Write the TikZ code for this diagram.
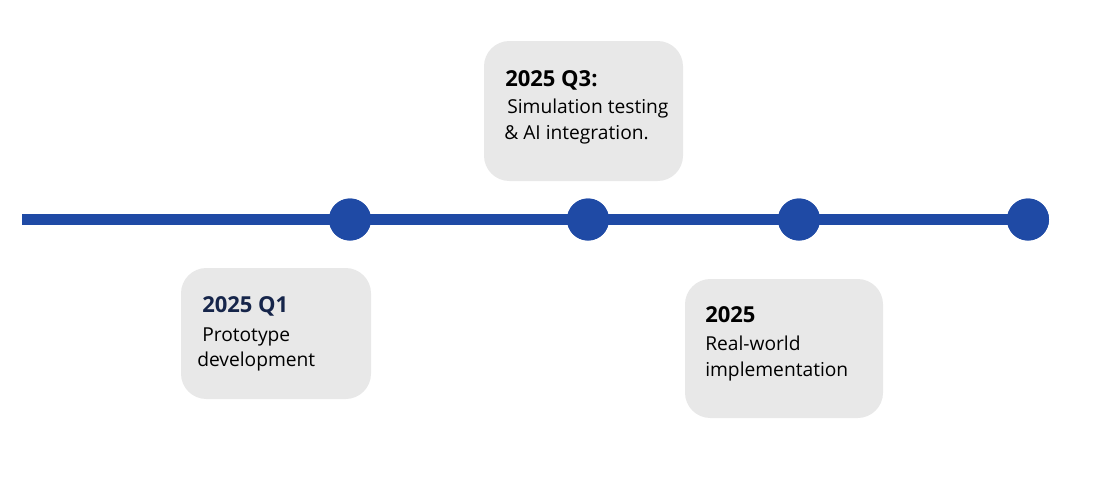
\documentclass[tikz,border=0pt]{standalone}
\usepackage{fontspec}
\setmainfont{Open Sans}
\definecolor{tlblue}{HTML}{1F4AA5}
\definecolor{boxgray}{HTML}{E8E8E8}
\definecolor{navy}{HTML}{16254A}
\begin{document}
\begin{tikzpicture}[x=0.75pt,y=-0.75pt,
  card/.style={fill=boxgray,rounded corners=19pt},
  dot/.style={circle,fill=tlblue,minimum size=31.5pt,inner sep=0pt},
  head/.style={anchor=base west,inner sep=0pt,font=\fontsize{16.5}{20}\selectfont\bfseries},
  body/.style={anchor=base west,inner sep=0pt,font=\fontsize{14.4}{17}\selectfont},
  tl/.style={draw=tlblue,line width=8.25pt}]
\useasboundingbox (0,0) rectangle (1120,490);
% cards
\fill[card] (181,268) rectangle (371,399);
\fill[card] (484,41) rectangle (683,181);
\fill[card] (685,279) rectangle (883,418);
% timeline
\coordinate (start) at (22,219.5);
\node[dot] (d1) at (350,219.5) {};
\node[dot] (d2) at (588,219.5) {};
\node[dot] (d3) at (799,219.5) {};
\node[dot] (d4) at (1028,219.5) {};
\draw[tl] (start) -- (d1.center) -- (d2.center) -- (d3.center) -- (d4.center);
\node[dot] at (d1) {};
\node[dot] at (d2) {};
\node[dot] at (d3) {};
\node[dot] at (d4) {};
% texts
\node[head,text=navy] (h1) at (202,312) {2025 Q1};
\node[body] (b1a) at (202,341) {Prototype};
\node[body] (b1b) at (197,366) {development};
\node[head] (h2) at (505,86) {2025 Q3:};
\node[body] (b2a) at (507,113) {Simulation testing};
\node[body] (b2b) at (504,139) {\& AI integration.};
\node[head] (h3) at (705,322) {2025};
\node[body] (b3a) at (705,350) {Real-world};
\node[body] (b3b) at (705,376) {implementation};
\end{tikzpicture}
\end{document}
